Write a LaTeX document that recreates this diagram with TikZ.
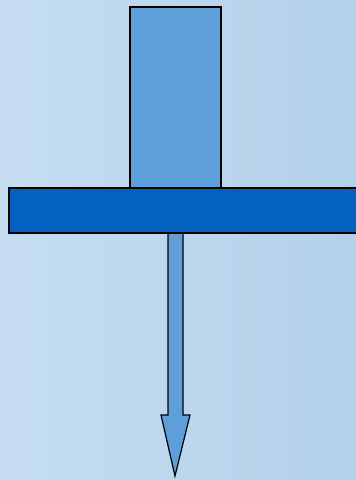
\documentclass[tikz,border=0pt]{standalone}
\usetikzlibrary{shapes.arrows}
\definecolor{bgleft}{HTML}{C6DDF1}
\definecolor{bgright}{HTML}{B3D1EA}
\definecolor{lightfill}{HTML}{5F9FD9}
\definecolor{barfill}{HTML}{0561C0}
\tikzset{part/.style={draw=black,line width=1.2pt,line join=miter}}
\begin{document}
\begin{tikzpicture}[x=1pt,y=-1pt]
\useasboundingbox (0,0) rectangle (356,480);
\shade[left color=bgleft,right color=bgright] (0,0) rectangle (356,480);
\begin{scope}
\clip (0,0) rectangle (356,480);
\draw[part,fill=lightfill] (130,7) rectangle (221,188);
\draw[part,fill=lightfill] (168,233) -- (168,415) -- (161,415) -- (175,476) -- (190,415) -- (183,415) -- (183,233) -- cycle;
\draw[part,fill=barfill] (9,188) rectangle (360,233);
\end{scope}
\end{tikzpicture}
\end{document}
